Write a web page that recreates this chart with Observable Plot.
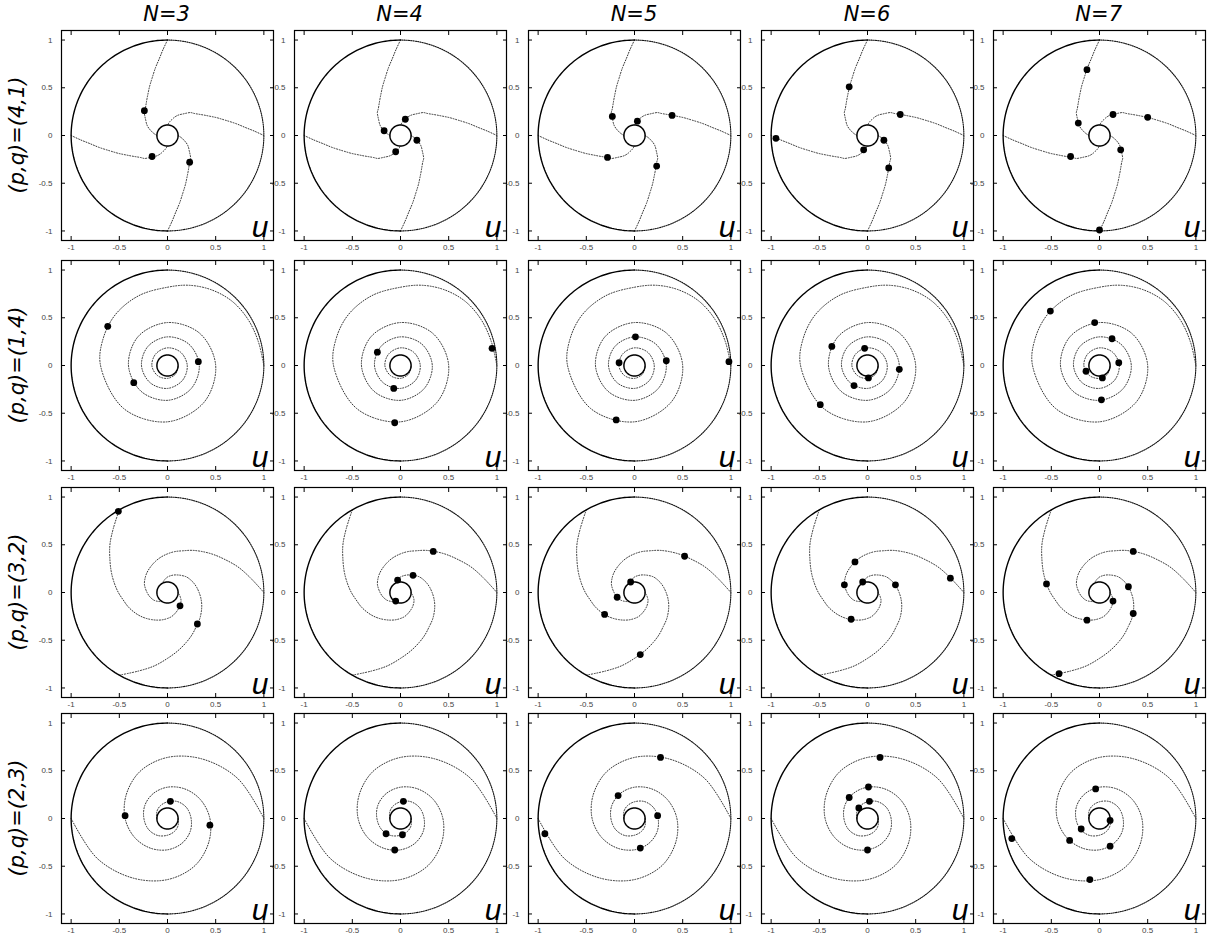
<!DOCTYPE html>
<html><head><meta charset="utf-8">
<script src="https://cdn.jsdelivr.net/npm/d3@7"></script>
<script src="https://cdn.jsdelivr.net/npm/@observablehq/plot@0.6"></script>
<style>
body{margin:0;background:#fff;}
#root{position:relative;width:1207px;height:940px;overflow:hidden;}
.panel{position:absolute;}
.coltitle{position:absolute;font-family:"DejaVu Sans",sans-serif;font-style:italic;font-size:21px;transform:translate(-50%,-50%);white-space:nowrap;color:#000;}
.rowtitle{position:absolute;font-family:"DejaVu Sans",sans-serif;font-style:italic;font-size:21px;transform:translate(-50%,-50%) rotate(-90deg);white-space:nowrap;color:#000;}
</style></head><body><div id="root"></div>
<script>
// ---------- data ----------
const nValues = [3, 4, 5, 6, 7];
const columnTitles = ["N=3", "N=4", "N=5", "N=6", "N=7"];
const rowTitles = ["(p,q)=(4,1)", "(p,q)=(1,4)", "(p,q)=(3,2)", "(p,q)=(2,3)"];
const tickValues = [-1, -0.5, 0, 0.5, 1];
const tickLabels = ["-1", "-0.5", "0", "0.5", "1"];
const outerRadius = 1;
const innerRadius = 0.11;

// spiral arm profiles: angle swept inward from the outer end (deg, counter-clockwise) and radius
const arm41Phi = [0, 3, 6, 10, 15, 20, 25, 30, 35, 40, 45, 50, 55, 60, 65, 70, 75, 80, 85, 90];
const arm41R   = [1.00, 0.90, 0.81, 0.72, 0.62, 0.545, 0.48, 0.43, 0.39, 0.36, 0.34, 0.305, 0.275, 0.252, 0.228, 0.20, 0.172, 0.15, 0.128, 0.11];
const arm41Ends = [0, 90, 180, 270];

const arm14Phi = [0, 15, 30, 45, 60, 75, 90, 112, 135, 157, 180, 225, 270, 315, 360, 405, 450, 495, 540, 585, 630, 675, 720, 765, 810, 855, 900, 945, 990, 1035, 1080, 1125, 1170, 1215, 1260, 1305, 1350, 1395, 1440];
const arm14R   = [1.00, 0.975, 0.965, 0.95, 0.915, 0.87, 0.82, 0.79, 0.76, 0.725, 0.695, 0.64, 0.59, 0.54, 0.50, 0.475, 0.45, 0.43, 0.405, 0.385, 0.365, 0.345, 0.33, 0.315, 0.30, 0.285, 0.27, 0.255, 0.24, 0.22, 0.205, 0.195, 0.185, 0.172, 0.162, 0.148, 0.135, 0.122, 0.11];
const arm14Ends = [0];

const arm32Phi = [0, 10, 20, 30, 40, 50, 60, 70, 80, 90, 100, 110, 120, 130, 140, 150, 160, 170, 180, 190, 200, 210, 220, 230, 240];
const arm32R   = [1.00, 0.875, 0.78, 0.69, 0.62, 0.56, 0.51, 0.465, 0.435, 0.405, 0.378, 0.352, 0.328, 0.308, 0.29, 0.272, 0.255, 0.232, 0.212, 0.195, 0.178, 0.162, 0.142, 0.124, 0.11];
const arm32Ends = [0, 120, 240];

const arm23Phi = [0, 30, 60, 90, 120, 150, 180, 210, 240, 270, 300, 330, 360, 390, 420, 450, 480, 510, 540];
const arm23R   = [1.00, 0.84, 0.72, 0.64, 0.57, 0.495, 0.44, 0.395, 0.358, 0.328, 0.30, 0.272, 0.245, 0.228, 0.205, 0.175, 0.152, 0.13, 0.11];
const arm23Ends = [0, 180];

// particle positions, one list per N (3..7)
const dots41X = [[-0.24, -0.16, 0.23], [0.05, -0.17, 0.17, -0.05], [-0.23, 0.03, 0.39, -0.28, 0.23], [-0.19, 0.34, -0.95, 0.17, -0.04, 0.22], [-0.13, -0.22, 0.14, 0.50, -0.30, 0.22, 0.00]];
const dots41Y = [[0.26, -0.22, -0.28], [0.17, 0.05, -0.05, -0.17], [0.20, 0.15, 0.21, -0.23, -0.32], [0.51, 0.22, -0.03, -0.05, -0.15, -0.34], [0.69, 0.13, 0.22, 0.19, -0.22, -0.15, -0.99]];

const dots14X = [[-0.62, 0.32, -0.35], [-0.24, -0.07, -0.06, 0.95], [0.01, -0.16, 0.33, 0.98, -0.19], [-0.37, -0.03, 0.33, 0.01, -0.14, -0.49], [-0.51, -0.05, 0.13, 0.20, -0.14, 0.03, 0.02]];
const dots14Y = [[0.41, 0.04, -0.18], [0.14, -0.24, -0.60, 0.18], [0.30, 0.03, 0.05, 0.04, -0.57], [0.20, 0.18, -0.04, -0.13, -0.21, -0.41], [0.57, 0.45, 0.28, 0.03, -0.06, -0.13, -0.36]];

const dots32X = [[-0.51, 0.13, 0.31], [0.34, 0.13, -0.03, -0.05], [0.52, -0.04, -0.18, -0.31, 0.06], [-0.13, -0.05, -0.24, 0.29, 0.86, -0.17], [0.35, 0.30, -0.55, 0.14, 0.35, -0.13, -0.42]];
const dots32Y = [[0.85, -0.14, -0.33], [0.43, 0.18, 0.13, -0.09], [0.38, 0.11, -0.05, -0.23, -0.65], [0.32, 0.11, 0.08, 0.08, 0.15, -0.28], [0.43, 0.06, 0.09, -0.09, -0.22, -0.29, -0.85]];

const dots23X = [[0.03, -0.44, 0.44], [0.03, -0.15, 0.02, -0.06], [0.27, -0.17, 0.24, 0.06, -0.93], [0.13, 0.01, -0.19, 0.02, -0.09, 0.00], [-0.04, 0.11, -0.19, -0.31, 0.11, -0.91, -0.10]];
const dots23Y = [[0.18, 0.03, -0.07], [0.18, -0.16, -0.17, -0.33], [0.64, 0.24, 0.03, -0.31, -0.16], [0.64, 0.33, 0.22, 0.18, 0.11, -0.33], [0.31, -0.02, -0.11, -0.23, -0.29, -0.21, -0.64]];

// ---------- layout ----------
const colCenters = [166.6, 399.6, 634, 867, 1098.7];
const rowCenters = [134.5, 364.7, 592.2, 818.3];
const FW = 212, FH = 210, ML = 36, MR = 4, MT = 4, MB = 18;

const rows = [
  {phi: arm41Phi, r: arm41R, ends: arm41Ends, dx: dots41X, dy: dots41Y},
  {phi: arm14Phi, r: arm14R, ends: arm14Ends, dx: dots14X, dy: dots14Y},
  {phi: arm32Phi, r: arm32R, ends: arm32Ends, dx: dots32X, dy: dots32Y},
  {phi: arm23Phi, r: arm23R, ends: arm23Ends, dx: dots23X, dy: dots23Y}
];

function armPoints(row) {
  const pts = [];
  row.ends.forEach((e, k) => row.phi.forEach((p, i) => {
    const a = (e + p) * Math.PI / 180;
    pts.push({arm: k, x: row.r[i] * Math.cos(a), y: row.r[i] * Math.sin(a)});
  }));
  return pts;
}
function arc(radius, a0, a1, n) {
  return d3.range(n + 1).map(i => {
    const a = (a0 + (a1 - a0) * i / n) * Math.PI / 180;
    return {x: radius * Math.cos(a), y: radius * Math.sin(a)};
  });
}

const root = document.getElementById("root");
const tickFmt = d => tickLabels[tickValues.indexOf(d)] ?? String(d);
const blank = () => "";

rows.forEach((row, ri) => {
  const arms = armPoints(row);
  nValues.forEach((n, ci) => {
    const dots = row.dx[ci].map((x, i) => ({x, y: row.dy[ci][i]}));
    const svg = Plot.plot({
      width: ML + FW + MR,
      height: MT + FH + MB,
      marginLeft: ML, marginRight: MR, marginTop: MT, marginBottom: MB,
      x: {domain: [-1.1, 1.1]},
      y: {domain: [-1.1, 1.1]},
      style: {background: "transparent", fontFamily: "'Liberation Sans', Arial, sans-serif", overflow: "visible"},
      marks: [
        Plot.line(arms, {x: "x", y: "y", z: "arm", curve: "catmull-rom", stroke: "#333", strokeWidth: 1, strokeDasharray: "1,1.7"}),
        Plot.line(arc(outerRadius, 90, 270, 120), {x: "x", y: "y", stroke: "#000", strokeWidth: 1.4}),
        Plot.line(arc(outerRadius, -90, 90, 120), {x: "x", y: "y", stroke: "#111", strokeWidth: 1.1, strokeDasharray: "1.2,1.1"}),
        Plot.line(arc(innerRadius, 0, 360, 60), {x: "x", y: "y", stroke: "#000", strokeWidth: 1.5}),
        Plot.dot(dots, {x: "x", y: "y", r: 3.4, fill: "#000", stroke: "none"}),
        Plot.frame({stroke: "#000", strokeWidth: 1.2}),
        Plot.axisX({anchor: "bottom", ticks: tickValues, tickSize: -4, tickPadding: 8, tickFormat: tickFmt, fontSize: 8, fill: "#444", stroke: "#000", label: null}),
        Plot.axisX({anchor: "top", ticks: tickValues, tickSize: -4, tickFormat: blank, stroke: "#000", label: null}),
        Plot.axisY({anchor: "left", ticks: tickValues, tickSize: -4, tickPadding: 13, tickFormat: tickFmt, fontSize: 8, fill: "#444", stroke: "#000", label: null}),
        Plot.axisY({anchor: "right", ticks: tickValues, tickSize: -4, tickFormat: blank, stroke: "#000", label: null}),
        Plot.text(["u"], {frameAnchor: "bottom-right", text: d => d, dx: -5, dy: -4, textAnchor: "end", lineAnchor: "bottom", fontSize: 30, fontStyle: "italic", fontFamily: "Liberation Sans", fill: "#000"})
      ]
    });
    svg.classList.add("panel");
    svg.style.left = (colCenters[ci] - FW / 2 - ML) + "px";
    svg.style.top = (rowCenters[ri] - FH / 2 - MT) + "px";
    root.appendChild(svg);
  });
});

columnTitles.forEach((t, ci) => {
  const d = document.createElement("div");
  d.className = "coltitle";
  d.textContent = t;
  d.style.left = colCenters[ci] + "px";
  d.style.top = "14px";
  root.appendChild(d);
});
rowTitles.forEach((t, ri) => {
  const d = document.createElement("div");
  d.className = "rowtitle";
  d.textContent = t;
  d.style.left = "17px";
  d.style.top = rowCenters[ri] + "px";
  root.appendChild(d);
});
</script></body></html>
